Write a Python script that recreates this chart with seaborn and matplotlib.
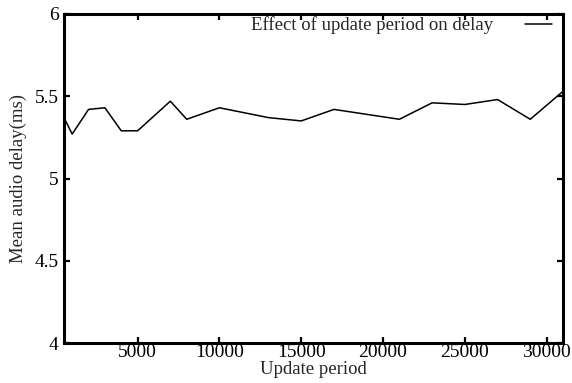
import matplotlib
matplotlib.use("Agg")
import matplotlib.pyplot as plt
import seaborn as sns
import pandas as pd

# Mean audio delay measured for each update period
update_period = [500, 1000, 2000, 3000, 4000, 5000, 7000, 8000, 10000, 13000,
                 15000, 17000, 21000, 23000, 25000, 27000, 29000, 31000]
mean_delay = [5.37, 5.27, 5.42, 5.43, 5.29, 5.29, 5.47, 5.36, 5.43, 5.37,
              5.35, 5.42, 5.36, 5.46, 5.45, 5.48, 5.36, 5.53]
x_ticks = [5000, 10000, 15000, 20000, 25000, 30000]
y_ticks = [4, 4.5, 5, 5.5, 6]
y_tick_labels = ["4", "4.5", "5", "5.5", "6"]

df = pd.DataFrame({"Update period": update_period,
                   "Mean audio delay(ms)": mean_delay})

sns.set_style("ticks")
plt.rcParams["font.family"] = ["Liberation Serif", "DejaVu Serif"]

fig = plt.figure(figsize=(5.72, 3.83), dpi=100)
ax = fig.add_axes([64 / 572, 40 / 383, (563 - 64) / 572, (343 - 14) / 383])

sns.lineplot(data=df, x="Update period", y="Mean audio delay(ms)", ax=ax,
             color="black", linewidth=1.1,
             label="Effect of update period on delay")

ax.set_xlim(500, 31000)
ax.set_ylim(4, 6)
ax.set_xticks(x_ticks)
ax.set_xticklabels([str(t) for t in x_ticks])
ax.set_yticks(y_ticks)
ax.set_yticklabels(y_tick_labels)

for side in ["left", "right", "top", "bottom"]:
    ax.spines[side].set_visible(True)
    ax.spines[side].set_linewidth(2.2)
    ax.spines[side].set_color("black")

ax.tick_params(axis="both", which="major", direction="in", length=4, width=1.6,
               labelsize=14, colors="black", top=True, right=True, pad=1)
ax.tick_params(axis="y", pad=4)
ax.set_xlabel("Update period", fontsize=13.5, labelpad=0)
ax.set_ylabel("Mean audio delay(ms)", fontsize=13.5, labelpad=5)

leg = ax.legend(loc="upper right", frameon=False, markerfirst=False,
                fontsize=13.5, handlelength=1.45, handletextpad=1.7,
                borderaxespad=0.0, bbox_to_anchor=(0.993, 1.015))

fig.savefig("out.png", dpi=100)
